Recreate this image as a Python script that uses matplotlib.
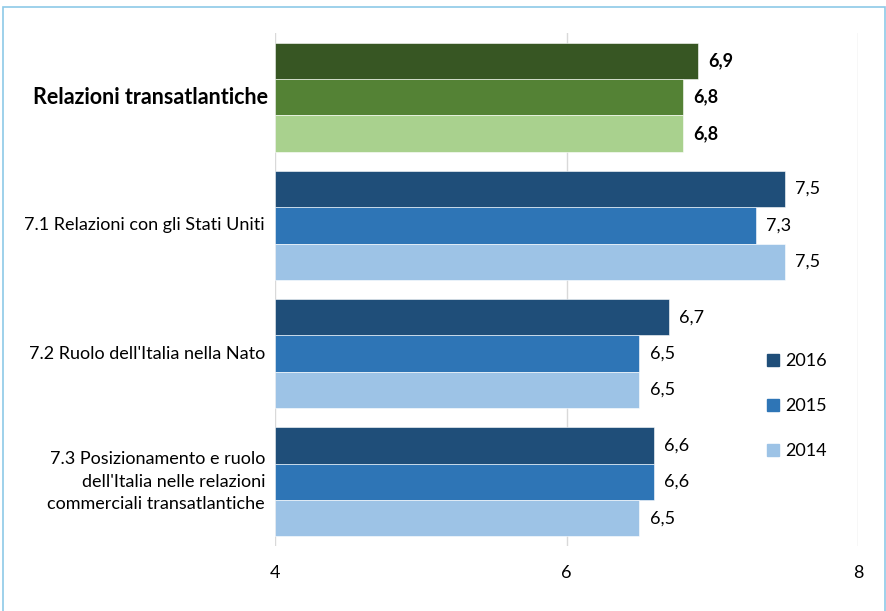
import matplotlib.pyplot as plt
import matplotlib.patches as mpatches
from matplotlib.lines import Line2D
import numpy as np

plt.rcParams['font.family'] = ['Lato', 'DejaVu Sans']

categories = ['Relazioni transatlantiche',
              '7.1 Relazioni con gli Stati Uniti',
              "7.2 Ruolo dell'Italia nella Nato",
              "7.3 Posizionamento e ruolo\ndell'Italia nelle relazioni\ncommerciali transatlantiche"]
years = ['2016', '2015', '2014']
values_2016 = [6.9, 7.5, 6.7, 6.6]
values_2015 = [6.8, 7.3, 6.5, 6.6]
values_2014 = [6.8, 7.5, 6.5, 6.5]

blue = ['#1F4E79', '#2E75B6', '#9DC3E6']
green = ['#375623', '#548235', '#A9D18E']

fig = plt.figure(figsize=(8.87, 6.11), dpi=100)
ax = fig.add_axes([275 / 887, 1 - 546 / 611, (858 - 275) / 887, (546 - 33) / 611])

h = 0.85 / 3
series = [values_2016, values_2015, values_2014]
for i, vals in enumerate(series):
    for j, v in enumerate(vals):
        y = j - h + i * h
        col = green[i] if j == 0 else blue[i]
        ax.barh(y, v - 4, left=4, height=h, color=col, edgecolor='white', linewidth=0.4, zorder=2)
        ax.text(v + 0.07, y, f'{v:.1f}'.replace('.', ','), va='center', ha='left',
                fontsize=13, fontweight='bold' if j == 0 else 'normal', color='black')

ax.set_xlim(4, 8)
ax.set_ylim(3.5, -0.5)
ax.set_xticks([4, 6, 8])
ax.set_xticklabels(['4', '6', '8'], fontsize=13)
ax.tick_params(axis='x', length=0, pad=14)
ax.set_yticks([])
ax.grid(axis='x', color='#D9D9D9', linewidth=1, zorder=0)
for s in ax.spines.values():
    s.set_visible(False)

for j, c in enumerate(categories):
    if j == 0:
        ax.text(-0.012, j, c, transform=ax.get_yaxis_transform(), ha='right', va='center',
                fontsize=15.5, fontweight='bold')
    else:
        ax.text(-0.017, j, c, transform=ax.get_yaxis_transform(), ha='right', va='center',
                fontsize=13, linespacing=1.5)

handles = [Line2D([], [], marker='s', linestyle='none', markersize=9, color=blue[k]) for k in range(3)]
ax.legend(handles, years, loc='center left', bbox_to_anchor=(0.81, 0.273), frameon=False,
          fontsize=13, labelspacing=1.6, handletextpad=0.2, handlelength=1.0)

fig.patches.append(mpatches.Rectangle((3 / 887, -0.02), 882 / 887, 1.02 - 7 / 611,
                                      transform=fig.transFigure, fill=False,
                                      edgecolor='#8EC9E8', linewidth=1.2))

fig.savefig('out.png', dpi=100)
